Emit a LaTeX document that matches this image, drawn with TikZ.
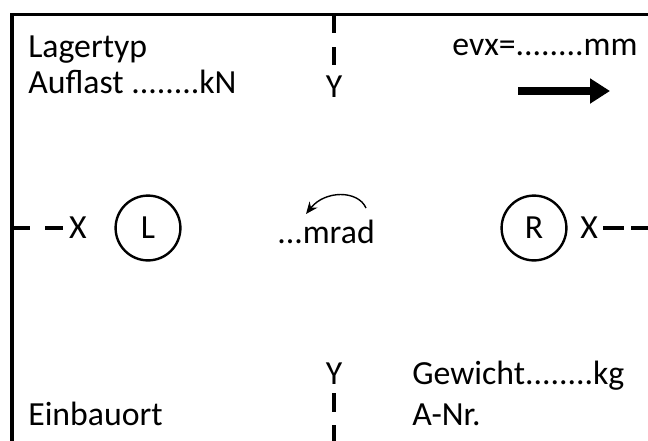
\documentclass[tikz,border=0pt]{standalone}
\usepackage{fontspec}
\setmainfont{Carlito}
\usetikzlibrary{arrows.meta,positioning,calc}
\newcommand\lblfont{\fontsize{24}{28}\selectfont}
\tikzset{lbl/.style={
            font=\lblfont,
            inner sep=0pt
        },
        lager/.style={
            draw,
            circle,
            line width=0.06cm,
            inner sep=0pt,
            minimum size=1.62cm,
            font=\lblfont
        },
        rahmen/.style={
            line width=0.075cm
        },
        strich/.style={
            line width=0.11cm,
            dash pattern=on 0.45cm off 0.35cm
        },
        pfeil/.style={
            line width=0.18cm,
            -{Triangle[length=0.5cm,width=0.6cm]}
        }
    }
\begin{document}
\begin{tikzpicture}[x=0.025cm,y=-0.025cm]
        \clip (0,0) rectangle (648,440);
        \fill[white] (0,0) rectangle (648,440);
        \draw[rahmen] (12,470) -- (12,15) -- (680,15);
        % Achsen
        \coordinate (obenMitte) at (334,15);
        \coordinate (untenMitte) at (334,460);
        \coordinate (linksMitte) at (12,228);
        \coordinate (rechtsMitte) at (660,228);
        % Texte
        \node[lbl,anchor=base west] (lagertyp) at (28,57) {Lagertyp};
        \node[lbl,anchor=base west] (auflast) at (28,93) {Auflast ........kN};
        \node[lbl,anchor=base east] (evx) at (638,55) {evx=........mm};
        \node[lbl,anchor=base] (yOben) at (334,97) {Y};
        \node[lbl] (xLinks) at (78,228) {X};
        \node[lbl] (xRechts) at (589,228) {X};
        \node[lager] (lagerL) at (148,228) {L};
        \node[lager] (lagerR) at (534,228) {R};
        \node[lbl,anchor=base] (mrad) at (326,243) {...mrad};
        \node[lbl,anchor=base] (yUnten) at (334,384) {Y};
        \node[lbl,anchor=base west] (gewicht) at (412,384) {Gewicht........kg};
        \node[lbl,anchor=base west] (anr) at (412,425) {A-Nr.};
        \node[lbl,anchor=base west] (einbauort) at (28,425) {Einbauort};
        \draw[strich] (obenMitte) -- (yOben.north);
        \draw[strich, shorten <=0.225cm, dash pattern=on 0.475cm off 0.325cm] (yUnten.south) -- (untenMitte);
        \draw[strich, dash pattern=on 0.45cm off 0.375cm] (linksMitte) -- (xLinks.west);
        \draw[strich, shorten <=0.125cm, dash pattern=on 0.525cm off 0.175cm] (xRechts.east) -- (rechtsMitte);
        % Verdrehung
        \coordinate (bogenA) at (366,208);
        \coordinate (bogenB) at (306,214);
        \draw[line width=0.035cm, -{Stealth[length=0.3cm,width=0.25cm]}] (bogenA) .. controls (358,190) and (325,190) .. (bogenB);
        % Verschiebung
        \coordinate (pfeilA) at (518,91);
        \coordinate (pfeilB) at (610,91);
        \draw[pfeil] (pfeilA) -- (pfeilB);
    \end{tikzpicture}
\end{document}
